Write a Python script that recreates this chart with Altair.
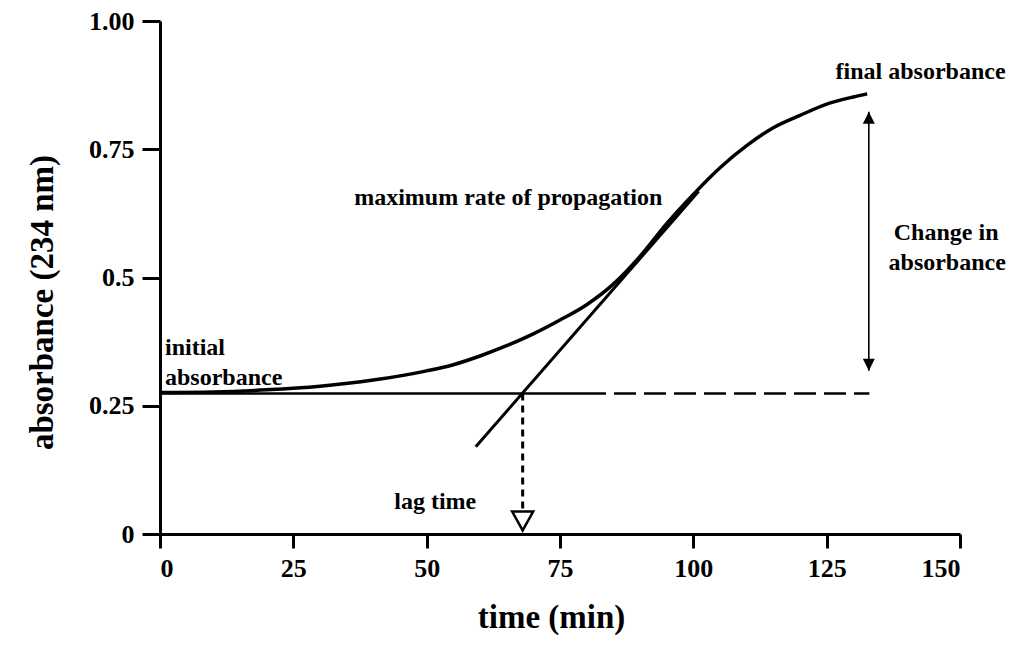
import altair as alt
import pandas as pd

# ---- data ----
curve_t = [0, 10, 20, 30, 40, 50, 55, 60, 65, 70, 75, 80, 85, 90, 95, 100, 105, 110, 115, 120, 125, 130, 132.6]
curve_a = [0.276, 0.277, 0.281, 0.288, 0.300, 0.318, 0.330, 0.347, 0.367, 0.390, 0.417, 0.447, 0.487,
           0.541, 0.605, 0.662, 0.714, 0.757, 0.792, 0.816, 0.838, 0.852, 0.858]

tangent_t = [59.2, 101.0]
tangent_a = [0.170, 0.668]

base_level = 0.274
base_solid_t = [0, 79.5]
base_dash_t = [79.5, 133.0]

lag_time = 68.0
lag_top = 0.274
lag_bottom = 0.043

change_x = 132.9
change_low = 0.318
change_high = 0.823

x_ticks = [0, 25, 50, 75, 100, 125, 150]
y_ticks = [0, 0.25, 0.5, 0.75, 1.0]
y_tick_labels = ["0", "0.25", "0.5", "0.75", "1.00"]

ann_left_text = ["initial", "absorbance"]
ann_left_t = [0.94, 0.94]
ann_left_a = [0.363, 0.305]

ann_center_text = ["maximum rate of propagation", "final absorbance", "Change in", "absorbance", "lag time"]
ann_center_t = [65.3, 142.6, 147.4, 147.6, 51.6]
ann_center_a = [0.654, 0.901, 0.586, 0.528, 0.062]

FONT = "Liberation Serif"

xs = alt.Scale(domain=[0, 150], nice=False, zero=False)
ys = alt.Scale(domain=[0, 1], nice=False, zero=False)

label_expr = " : ".join(
    [f"datum.value == {v} ? '{l}'" for v, l in zip(y_ticks, y_tick_labels)]
) + " : ''"

curve_df = pd.DataFrame({"t": curve_t, "a": curve_a})
tangent_df = pd.DataFrame({"t": tangent_t, "a": tangent_a})
solid_df = pd.DataFrame({"t": base_solid_t, "a": [base_level] * 2})
dash_df = pd.DataFrame({"t": base_dash_t, "a": [base_level] * 2})
lag_df = pd.DataFrame({"t": [lag_time], "a": [lag_top], "a2": [lag_bottom], "z": [0.0]})
chg_df = pd.DataFrame({"t": [change_x], "a": [change_low], "a2": [change_high]})
left_df = pd.DataFrame({"t": ann_left_t, "a": ann_left_a, "txt": ann_left_text})
center_df = pd.DataFrame({"t": ann_center_t, "a": ann_center_a, "txt": ann_center_text})

x_axis = alt.Axis(
    values=x_ticks, title="time (min)", grid=False,
    domainColor="black", domainWidth=3, tickColor="black", tickWidth=3, tickSize=14,
    labelFont=FONT, labelFontWeight="bold", labelFontSize=26, labelColor="black", labelPadding=7,
    titleFont=FONT, titleFontWeight="bold", titleFontSize=33, titleColor="black",
    titleX=391, titleY=83, titleBaseline="middle", titleAlign="center",
)
y_axis = alt.Axis(
    values=y_ticks, labelExpr=label_expr, title="absorbance (234 nm)", grid=False,
    domainColor="black", domainWidth=3, tickColor="black", tickWidth=3, tickSize=18,
    labelFont=FONT, labelFontWeight="bold", labelFontSize=26, labelColor="black", labelPadding=8,
    titleFont=FONT, titleFontWeight="bold", titleFontSize=33, titleColor="black",
    titleX=-118, titleY=281, titleBaseline="middle", titleAlign="center", titleAngle=-90,
)

X = alt.X("t:Q", scale=xs, axis=x_axis)
Y = alt.Y("a:Q", scale=ys, axis=y_axis)

curve = alt.Chart(curve_df).mark_line(color="black", strokeWidth=3.5, interpolate="monotone").encode(x=X, y=Y)

def ln(df, **kw):
    return alt.Chart(df).mark_line(color="black", **kw).encode(x=X, y=Y)

tangent = ln(tangent_df, strokeWidth=3)
solid = ln(solid_df, strokeWidth=2.5)
dashed = ln(dash_df, strokeWidth=2.5, strokeDash=[22, 8])

lag_line = alt.Chart(lag_df).mark_rule(color="black", strokeWidth=3, strokeDash=[7, 5]).encode(
    x=X, y=Y, y2="a2:Q",
)
lag_head = alt.Chart(lag_df).mark_point(
    shape="M-1,-0.9L1,-0.9L0,0.9Z", size=441, filled=False, color="black",
    strokeWidth=2.5, yOffset=-13, opacity=1,
).encode(
    x=X,
    y=alt.Y("z:Q", scale=ys, axis=y_axis),
)

chg_line = alt.Chart(chg_df).mark_rule(color="black", strokeWidth=1.6).encode(
    x=X, y=Y, y2="a2:Q",
)
chg_up = alt.Chart(chg_df).mark_point(
    shape="M0,-1L1,1L-1,1Z", size=144, filled=True, color="black", yOffset=6, opacity=1,
).encode(
    x=X,
    y=alt.Y("a2:Q", scale=ys, axis=y_axis),
)
chg_down = alt.Chart(chg_df).mark_point(
    shape="M0,1L1,-1L-1,-1Z", size=144, filled=True, color="black", yOffset=-6, opacity=1,
).encode(x=X, y=Y)

left_text = alt.Chart(left_df).mark_text(
    font=FONT, fontWeight="bold", fontSize=24, color="black", align="left", baseline="middle",
).encode(x=X, y=Y, text="txt:N")
center_text = alt.Chart(center_df).mark_text(
    font=FONT, fontWeight="bold", fontSize=24, color="black", align="center", baseline="middle",
).encode(x=X, y=Y, text="txt:N")

chart = alt.layer(
    curve, tangent, solid, dashed, lag_line, lag_head, chg_line, chg_up, chg_down,
    left_text, center_text,
).properties(
    width=800, height=513,
    autosize=alt.AutoSizeParams(type="none"),
    padding={"left": 152, "top": 13, "right": 50, "bottom": 102},
    background="white",
).configure_view(stroke=None)

chart.save("out.html", embed_options={"renderer": "svg", "actions": False})
